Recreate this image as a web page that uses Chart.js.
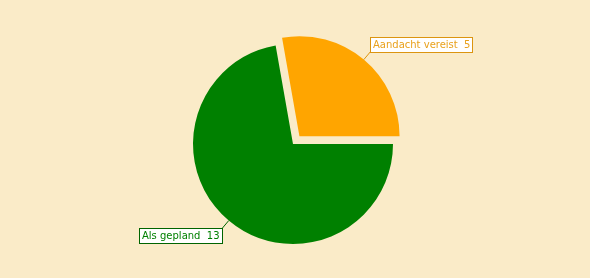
<!DOCTYPE html>
<html>
<head>
<meta charset="utf-8">
<script src="https://cdn.jsdelivr.net/npm/chart.js@4"></script>
<style>
  html, body { margin: 0; padding: 0; background: #faebc8; }
  #wrap { width: 590px; height: 278px; }
</style>
</head>
<body>
<div id="wrap"><canvas id="pieChart" width="590" height="278"></canvas></div>
<script>
const categories = ['Aandacht vereist', 'Als gepland'];
const values = [5, 13];
const colors = ['#ffa500', '#008000'];
const labelText = ['#e9a11c', '#008000'];
const labelBorder = ['#dc9510', '#006400'];

// leader lines + boxed labels next to each slice
const sliceLabels = {
    id: 'sliceLabels',
    afterDatasetsDraw(chart) {
        const ctx = chart.ctx;
        const meta = chart.getDatasetMeta(0);
        ctx.save();
        ctx.font = '10px "DejaVu Sans"';
        ctx.textBaseline = 'middle';
        meta.data.forEach((arc, i) => {
            const p = arc.getProps(['x', 'y', 'startAngle', 'endAngle', 'outerRadius', 'circumference'], true);
            const mid = (p.startAngle + p.endAngle) / 2;
            // same shift the arc element uses when drawing
            const o4 = (arc.options.offset || 0) / 4;
            const fix = 1 - Math.sin(Math.min(Math.PI, p.circumference || 0));
            const off = o4 + o4 * fix;
            const cx = p.x + Math.cos(mid) * off;
            const cy = p.y + Math.sin(mid) * off;
            const x1 = cx + Math.cos(mid) * p.outerRadius;
            const y1 = cy + Math.sin(mid) * p.outerRadius;
            const x2 = cx + Math.cos(mid) * (p.outerRadius + 10);
            const y2 = cy + Math.sin(mid) * (p.outerRadius + 10);
            ctx.strokeStyle = labelBorder[i];
            ctx.lineWidth = 1;
            ctx.beginPath();
            ctx.moveTo(x1, y1);
            ctx.lineTo(x2, y2);
            ctx.stroke();

            const txt = categories[i] + '  ' + values[i];
            const w = Math.round(ctx.measureText(txt).width) + 5;
            const h = 15;
            const right = Math.cos(mid) >= 0;
            const up = Math.sin(mid) < 0;
            const bx = Math.round(right ? x2 : x2 - w);
            const by = Math.round(up ? y2 - h : y2);
            ctx.fillStyle = '#ffffff';
            ctx.fillRect(bx, by, w, h);
            ctx.strokeRect(bx + 0.5, by + 0.5, w, h);
            ctx.fillStyle = labelText[i];
            ctx.textAlign = 'left';
            ctx.fillText(txt, bx + 3, by + h / 2 + 1);
        });
        ctx.restore();
    }
};

new Chart(document.getElementById('pieChart'), {
    type: 'pie',
    data: {
        labels: categories,
        datasets: [{
            data: values,
            backgroundColor: colors,
            borderWidth: 0,
            offset: [40, 0],
            hoverOffset: 0
        }]
    },
    options: {
        responsive: false,
        animation: false,
        rotation: -10,
        radius: 100,
        layout: { padding: { top: 20, bottom: 10, left: 0, right: 4 } },
        plugins: {
            legend: { display: false },
            tooltip: { enabled: false }
        }
    },
    plugins: [sliceLabels]
});
</script>
</body>
</html>
